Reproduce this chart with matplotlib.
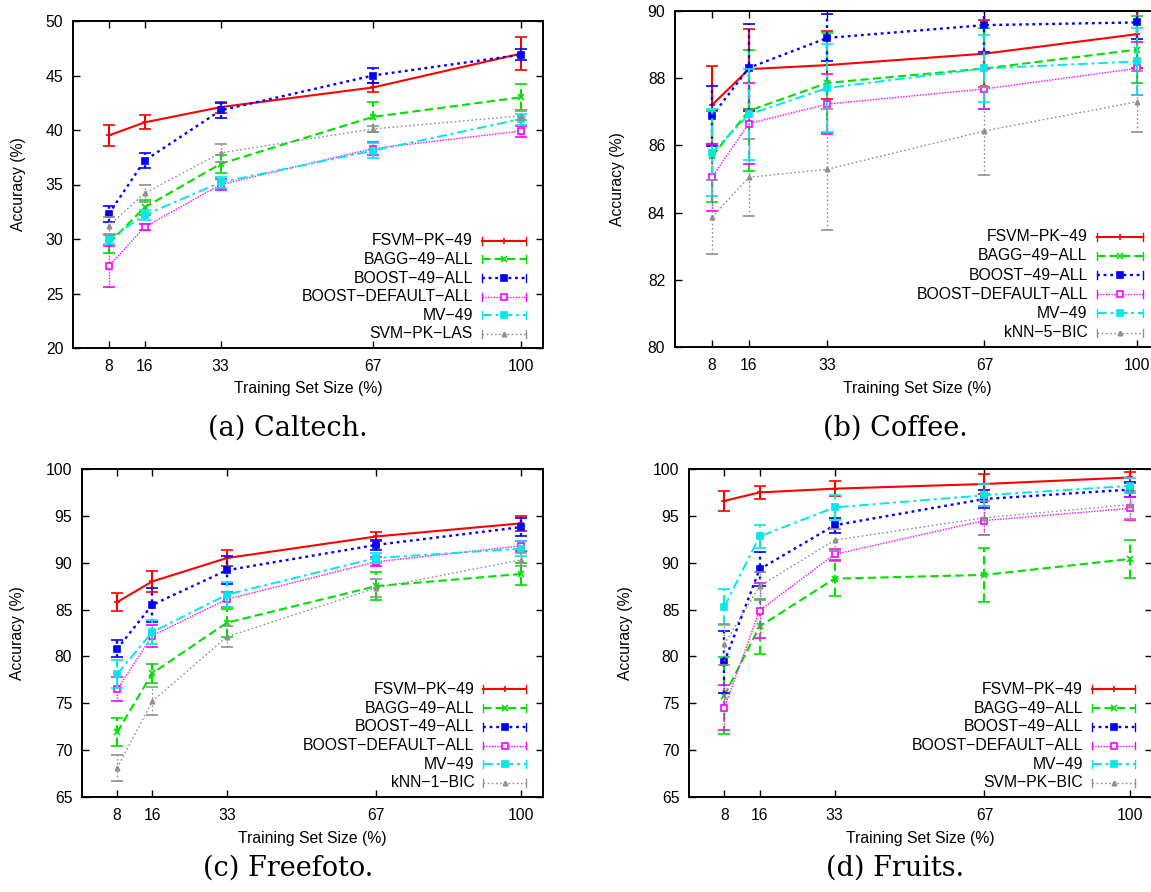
import matplotlib
matplotlib.use('Agg')
import matplotlib.pyplot as plt

plt.rcParams['font.family'] = ['Liberation Sans', 'DejaVu Sans']

sizes = [8, 16, 33, 67, 100]
methods = ['FSVM−PK−49', 'BAGG−49−ALL', 'BOOST−49−ALL', 'BOOST−DEFAULT−ALL', 'MV−49']

# (a) Caltech
caltech_acc = [
    [39.5, 40.7, 42.1, 43.9, 47.0],
    [29.6, 32.9, 36.9, 41.2, 43.0],
    [32.3, 37.2, 41.8, 45.0, 46.9],
    [27.5, 31.1, 35.0, 38.3, 39.9],
    [30.0, 32.2, 35.2, 38.1, 41.0],
    [31.2, 34.2, 37.9, 40.1, 41.3],
]
caltech_err = [
    [1.0, 0.65, 0.5, 0.4, 1.5],
    [0.9, 0.7, 0.8, 1.4, 1.2],
    [0.7, 0.7, 0.7, 0.7, 0.5],
    [1.9, 0.3, 0.5, 0.6, 0.5],
    [0.5, 0.5, 0.5, 0.7, 0.5],
    [0.8, 0.8, 0.8, 0.3, 0.4],
]

# (b) Coffee
coffee_acc = [
    [87.2, 88.27, 88.39, 88.73, 89.31],
    [85.68, 87.03, 87.86, 88.29, 88.85],
    [86.87, 88.31, 89.2, 89.58, 89.66],
    [85.05, 86.65, 87.23, 87.68, 88.29],
    [85.78, 86.92, 87.71, 88.29, 88.5],
    [83.86, 85.05, 85.29, 86.43, 87.3],
]
coffee_err = [
    [1.17, 1.2, 1.0, 1.0, 1.0],
    [1.35, 1.8, 1.5, 1.2, 1.0],
    [0.9, 1.3, 0.7, 0.8, 0.5],
    [1.0, 1.2, 0.9, 0.6, 0.8],
    [1.3, 1.35, 1.3, 1.0, 1.0],
    [1.1, 1.15, 1.8, 1.3, 0.9],
]

# (c) Freefoto
freefoto_acc = [
    [85.8, 88.0, 90.5, 92.8, 94.2],
    [71.9, 78.2, 83.6, 87.5, 88.8],
    [80.8, 85.5, 89.2, 91.9, 93.8],
    [76.5, 82.2, 86.1, 90.1, 91.8],
    [78.1, 82.6, 86.6, 90.5, 91.5],
    [68.1, 75.2, 82.1, 87.3, 90.3],
]
freefoto_err = [
    [1.0, 1.1, 0.9, 0.5, 0.8],
    [1.5, 1.0, 1.5, 1.5, 1.2],
    [0.9, 1.8, 1.5, 0.5, 1.0],
    [1.3, 1.2, 0.8, 0.5, 0.5],
    [1.5, 1.3, 1.3, 0.5, 0.8],
    [1.4, 1.5, 1.1, 1.0, 0.7],
]

# (d) Fruits
fruits_acc = [
    [96.6, 97.5, 97.9, 98.4, 99.1],
    [75.8, 83.2, 88.3, 88.7, 90.4],
    [79.4, 89.3, 94.0, 96.8, 97.8],
    [74.5, 84.9, 90.9, 94.5, 95.8],
    [85.3, 92.8, 95.9, 97.2, 98.2],
    [81.3, 87.5, 92.4, 94.8, 96.2],
]
fruits_err = [
    [1.1, 0.7, 0.8, 1.1, 0.6],
    [4.1, 2.9, 1.9, 2.9, 2.0],
    [3.3, 1.8, 0.8, 1.0, 0.8],
    [2.4, 2.9, 0.6, 1.5, 1.2],
    [1.9, 1.2, 1.3, 1.2, 0.8],
    [2.2, 1.5, 1.2, 1.8, 1.5],
]

# gnuplot-like line types
styles = [
    dict(color='#ff0000', ls='-', lw=1.5, marker='+', ms=4.5, mfc='#ff0000'),
    dict(color='#00e000', ls=(0, (4, 2)), lw=1.5, marker='x', ms=4, mfc='#00e000'),
    dict(color='#0000ff', ls=(0, (1.2, 1.6)), lw=1.7, marker='s', ms=4, mfc='#0000ff'),
    dict(color='#ff00ff', ls=(0, (1, 1)), lw=1.0, marker='s', ms=4.8, mfc='white'),
    dict(color='#00e8e8', ls=(0, (5, 2, 1.5, 2)), lw=1.4, marker='s', ms=5, mfc='#00e8e8'),
    dict(color='#909090', ls=(0, (1.2, 1.8)), lw=1.0, marker='^', ms=3.2, mfc='#909090'),
]

W, H = 1151, 892
fig = plt.figure(figsize=(W / 100, H / 100), dpi=100)


def draw_panel(rect, acc, err, last_label, ylim, ystep, caption, cap_x, cap_y, ylab_x):
    ax = fig.add_axes([rect[0] / W, 1 - rect[3] / H, (rect[1] - rect[0]) / W, (rect[3] - rect[2]) / H])
    labels = methods + [last_label]
    for i, st in enumerate(styles):
        eb = ax.errorbar(sizes, acc[i], yerr=err[i], color=st['color'], ls=st['ls'], lw=st['lw'],
                         marker=st['marker'], ms=st['ms'], mfc=st['mfc'], mec=st['color'],
                         mew=1.2, capsize=4, elinewidth=st['lw'], capthick=1.1, zorder=2 + i)
        for bc in eb[2]:
            bc.set_linestyle(st['ls'])

    ax.set_xlim(0, 105)
    ax.set_ylim(*ylim)
    ax.set_xticks(sizes)
    ax.set_yticks(range(ylim[0], ylim[1] + 1, ystep))
    ax.tick_params(direction='in', top=True, right=True, length=5, width=1,
                   labelsize=11.3, pad=8)
    ax.tick_params(axis='y', pad=7)
    for sp in ax.spines.values():
        sp.set_linewidth(1.4)

    ax.text(0.5, -0.125, 'Training Set Size (%)', transform=ax.transAxes,
            ha='center', va='center', fontsize=11.3)
    ax.text(ylab_x, 0.5, 'Accuracy (%)', transform=ax.transAxes, rotation=90,
            ha='center', va='center', fontsize=11.3)

    # gnuplot-style key: label right-aligned, sample with end caps
    for i, st in enumerate(styles):
        y = 0.328 - i * 0.057
        ax.text(0.851, y, labels[i], transform=ax.transAxes, ha='right', va='center',
                fontsize=11.3, zorder=20)
        ax.plot([0.870, 0.964], [y, y], transform=ax.transAxes, color=st['color'],
                ls=st['ls'], lw=st['lw'], clip_on=False, zorder=20)
        for xe in (0.870, 0.964):
            ax.plot([xe, xe], [y - 0.012, y + 0.012], transform=ax.transAxes,
                    color=st['color'], lw=1.0, clip_on=False, zorder=20)
        ax.plot([0.917], [y], transform=ax.transAxes, marker=st['marker'], ms=st['ms'],
                mfc=st['mfc'], mec=st['color'], mew=1.2, ls='none', clip_on=False, zorder=21)

    fig.text(cap_x / W, 1 - cap_y / H, caption, ha='center', va='center',
             fontsize=19.5, family='DejaVu Serif')
    return ax


# rect = (left, right, top, bottom) in pixels
draw_panel((73, 543, 21, 348), caltech_acc, caltech_err, 'SVM−PK−LAS',
           (20, 50), 5, '(a) Caltech.', 288, 428, -0.117)
draw_panel((675, 1160, 11, 347), coffee_acc, coffee_err, 'kNN−5−BIC',
           (80, 90), 2, '(b) Coffee.', 895, 428, -0.118)
draw_panel((82, 543, 469, 797), freefoto_acc, freefoto_err, 'kNN−1−BIC',
           (65, 100), 5, '(c) Freefoto.', 288, 868, -0.139)
draw_panel((689, 1152, 469, 797), fruits_acc, fruits_err, 'SVM−PK−BIC',
           (65, 100), 5, '(d) Fruits.', 895, 868, -0.138)

fig.savefig('out.png', dpi=100)
